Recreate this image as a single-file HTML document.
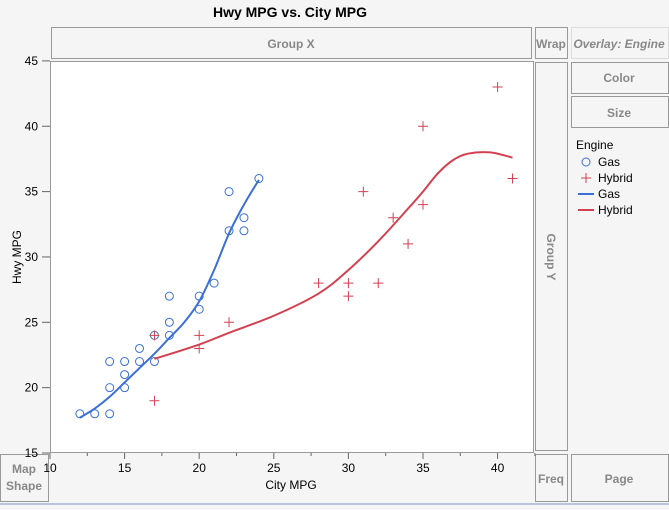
<!DOCTYPE html>
<html><head><style>
body{margin:0;background:#f5f5f5;width:669px;height:505px;overflow:hidden;font-family:"Liberation Sans",sans-serif}
</style></head><body>
<svg id="s" width="669" height="505" xmlns="http://www.w3.org/2000/svg" font-family="Liberation Sans, sans-serif">
<rect width="669" height="505" fill="#f5f5f5"/>
<rect x="0" y="503" width="669" height="2" fill="#b8c4dc"/>
<text x="290" y="17" font-size="14" font-weight="bold" text-anchor="middle">Hwy MPG vs. City MPG</text>
<g fill="#f5f5f5" stroke="#999" stroke-width="1">
<rect x="51.5" y="27.5" width="480" height="31"/>
<rect x="535.5" y="27.5" width="32" height="31"/>
<rect x="571.5" y="27.5" width="97" height="31" stroke="#ddd"/>
<rect x="571.5" y="62.5" width="97" height="31"/>
<rect x="571.5" y="96.5" width="97" height="31"/>
<rect x="535.5" y="62.5" width="32" height="388"/>
<rect x="0.5" y="454.5" width="48" height="47"/>
<rect x="535.5" y="454.5" width="32" height="47"/>
<rect x="571.5" y="454.5" width="97" height="47"/>
</g>
<g fill="#888" font-size="12" font-weight="bold" text-anchor="middle">
<text x="291" y="48">Group X</text>
<text x="551" y="48">Wrap</text>
<text x="619" y="48" font-style="italic">Overlay: Engine</text>
<text x="619" y="82">Color</text>
<text x="619" y="117">Size</text>
<text x="619" y="483">Page</text>
<text x="551" y="483">Freq</text>
<text x="24" y="473">Map</text>
<text x="24" y="490">Shape</text>
<text x="547" y="257" transform="rotate(90 547 257)">Group Y</text>
</g>
<rect x="50.5" y="61.5" width="483" height="391" fill="#fff" stroke="#999"/>
<g id="ax" font-size="12" fill="#000"></g>
<text x="291" y="489" font-size="12" text-anchor="middle">City MPG</text>
<text x="21" y="257" font-size="12" text-anchor="middle" transform="rotate(-90 21 257)">Hwy MPG</text>
<g id="d"></g>
<text x="576" y="149" font-size="12">Engine</text>
<circle cx="586" cy="162" r="4" fill="none" stroke="#3a6fd8"/>
<text x="598" y="166" font-size="12">Gas</text>
<path d="M581 178h10M586 173v10" stroke="#d4404f"/>
<text x="598" y="182" font-size="12">Hybrid</text>
<path d="M578 194h16" stroke="#3a6fd8" stroke-width="2"/>
<text x="598" y="198" font-size="12">Gas</text>
<path d="M578 210h16" stroke="#d4404f" stroke-width="2"/>
<text x="598" y="214" font-size="12">Hybrid</text>
</svg>
<script>
var X=v=>50+(v-10)*14.92,Y=v=>453-(v-15)*13.07,ns="http://www.w3.org/2000/svg";
var ax=document.getElementById('ax'),d=document.getElementById('d'),h='';
for(var v=10;v<=40;v+=5)h+='<text x="'+X(v)+'" y="472" text-anchor="middle">'+v+'</text>';
for(var v=10;v<=42.5;v+=2.5)h+='<line x1="'+X(v)+'" x2="'+X(v)+'" y1="453" y2="'+(v%5?456:459)+'" stroke="#666"/>';
for(var v=15;v<=45;v+=5)h+='<text x="38" y="'+(Y(v)+4)+'" text-anchor="end">'+v+'</text><line x1="42" x2="50" y1="'+Y(v)+'" y2="'+Y(v)+'" stroke="#666"/>';
ax.innerHTML=h;
var g=[[12,18],[13,18],[14,18],[14,20],[14,22],[15,20],[15,21],[15,22],[16,22],[16,23],[17,22],[17,24],[18,24],[18,25],[18,27],[20,26],[20,27],[21,28],[22,32],[22,35],[23,32],[23,33],[24,36]];
var hy=[[17,19],[17,24],[20,23],[20,24],[22,25],[28,28],[30,27],[30,28],[31,35],[32,28],[33,33],[34,31],[35,34],[35,40],[40,43],[41,36]];
var bc=[[12,17.7],[13,18.4],[14,19.3],[15,20.4],[16,21.5],[17,22.6],[18,23.8],[19,25],[20,26.6],[21,29],[22,31.8],[23,34],[24,35.9]];
var rc=[[17,22.2],[20,23.3],[22,24.2],[25,25.5],[28,27.2],[30,29],[32,31.2],[34,33.7],[35,35],[36,36.4],[37,37.4],[38,37.9],[39.5,38],[41,37.6]];
function path(p){var s='M'+X(p[0][0])+' '+Y(p[0][1]);for(var i=1;i<p.length;i++){var a=p[i-1],b=p[i],m=p[i-2]||a,n=p[i+1]||b;s+=' C'+(X(a[0])+(X(b[0])-X(m[0]))/6)+' '+(Y(a[1])+(Y(b[1])-Y(m[1]))/6)+' '+(X(b[0])-(X(n[0])-X(a[0]))/6)+' '+(Y(b[1])-(Y(n[1])-Y(a[1]))/6)+' '+X(b[0])+' '+Y(b[1]);}return s;}
h='';
g.forEach(p=>h+='<circle cx="'+X(p[0])+'" cy="'+Y(p[1])+'" r="4" fill="none" stroke="#3a6fd8"/>');
hy.forEach(p=>h+='<path d="M'+(X(p[0])-5)+' '+Y(p[1])+'h10M'+X(p[0])+' '+(Y(p[1])-5)+'v10" stroke="#d4404f"/>');
h+='<path d="'+path(bc)+'" fill="none" stroke="#3a6fd8" stroke-width="2"/>';
h+='<path d="'+path(rc)+'" fill="none" stroke="#d4404f" stroke-width="2"/>';
d.innerHTML=h;
</script>
</body></html>
